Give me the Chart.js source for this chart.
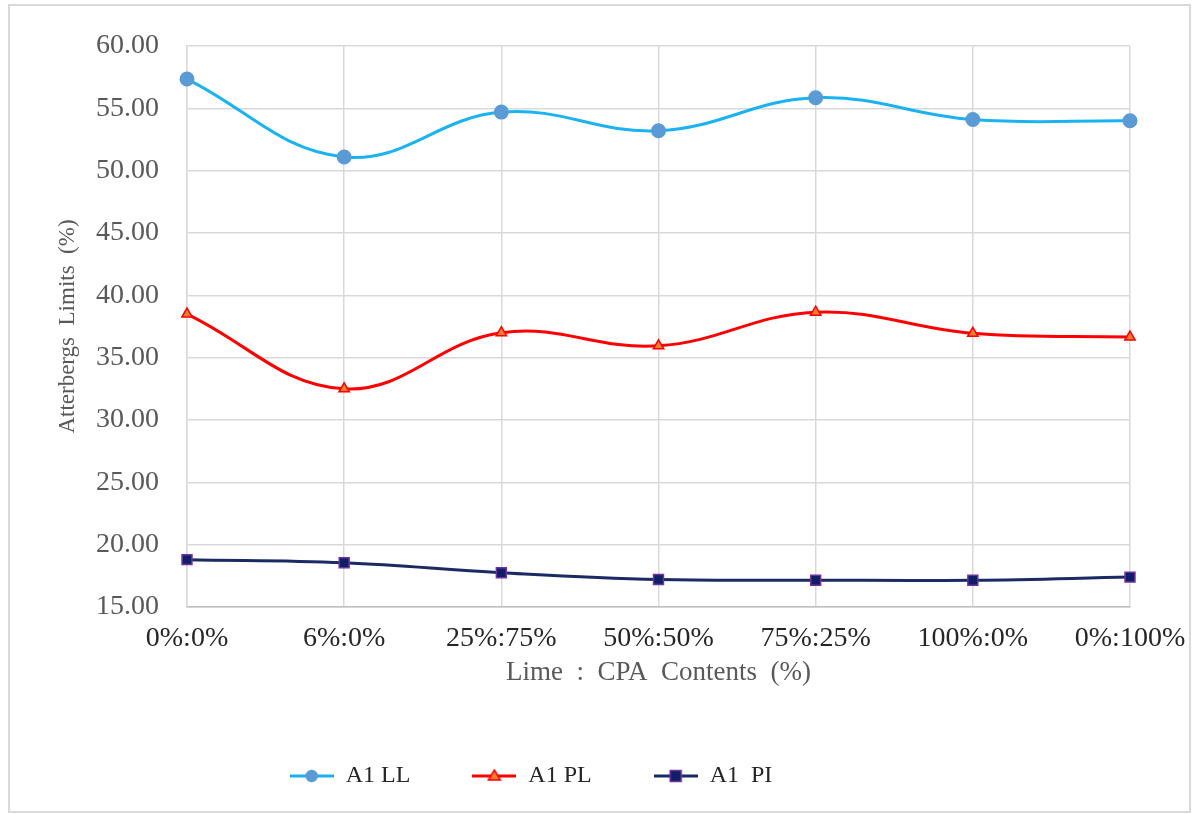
<!DOCTYPE html>
<html>
<head>
<meta charset="utf-8">
<script src="https://cdn.jsdelivr.net/npm/chart.js@4.4.1/dist/chart.umd.min.js"></script>
<style>
  html, body { margin: 0; background: #fff; }
</style>
</head>
<body>
<canvas id="chart" width="1193" height="814"></canvas>
<script>
// values
const categories = ['0%:0%', '6%:0%', '25%:75%', '50%:50%', '75%:25%', '100%:0%', '0%:100%'];
const llValues = [57.35, 51.1, 54.7, 53.2, 55.85, 54.1, 54.0];
const plValues = [38.5, 32.5, 37.0, 35.95, 38.65, 36.95, 36.65];
const piValues = [18.8, 18.55, 17.75, 17.2, 17.15, 17.15, 17.4];
const seriesNames = ['A1 LL', 'A1 PL', 'A1  PI'];
const yMin = 15, yMax = 60, yStep = 5;

const SERIF = '"Liberation Serif", "Times New Roman", serif';

// little line+marker icon for the legend
function legendIcon(line, style, fill, stroke) {
  const c = document.createElement('canvas');
  c.width = 44; c.height = 16;
  const g = c.getContext('2d');
  g.strokeStyle = line; g.lineWidth = 3;
  g.beginPath(); g.moveTo(0, 8); g.lineTo(44, 8); g.stroke();
  g.fillStyle = fill; g.strokeStyle = stroke; g.lineWidth = 1.5;
  g.beginPath();
  if (style === 'circle') g.arc(22, 8, 5.5, 0, Math.PI * 2);
  else if (style === 'triangle') { g.moveTo(22, 2); g.lineTo(28, 12); g.lineTo(16, 12); g.closePath(); }
  else g.rect(16.5, 2.5, 11, 11);
  g.fill(); g.stroke();
  return c;
}

const frame = {
  id: 'frame',
  beforeDraw(chart) {
    const ctx = chart.ctx;
    ctx.save();
    ctx.fillStyle = '#fff';
    ctx.fillRect(0, 0, chart.width, chart.height);
    ctx.strokeStyle = '#d9d9d9';
    ctx.lineWidth = 2;
    ctx.strokeRect(9, 5, 1181, 807);
    ctx.restore();
  }
};

const datasets = [
  { label: seriesNames[0], data: llValues, borderColor: '#1ab2f0', borderWidth: 3,
    pointStyle: 'circle', pointRadius: 6, pointBackgroundColor: '#5b9bd5', pointBorderColor: '#5b9bd5',
    icon: legendIcon('#1ab2f0', 'circle', '#5b9bd5', '#5b9bd5') },
  { label: seriesNames[1], data: plValues, borderColor: '#ff0000', borderWidth: 3,
    pointStyle: 'triangle', pointRadius: 6, pointBackgroundColor: '#ed7d31', pointBorderColor: '#ff0000', pointBorderWidth: 1.5,
    icon: legendIcon('#ff0000', 'triangle', '#ed7d31', '#ff0000') },
  { label: seriesNames[2], data: piValues, borderColor: '#1b2a63', borderWidth: 3,
    pointStyle: 'rect', pointRadius: 7, pointBackgroundColor: '#0f1f66', pointBorderColor: '#7030a0', pointBorderWidth: 1.5,
    icon: legendIcon('#1b2a63', 'rect', '#0f1f66', '#7030a0') }
];
datasets.forEach(d => { d.tension = 0.4; d.fill = false; });

new Chart(document.getElementById('chart'), {
  type: 'line',
  data: { labels: categories, datasets },
  plugins: [frame],
  options: {
    responsive: false,
    devicePixelRatio: 1,
    animation: false,
    layout: { padding: { left: 50, right: 63, top: 46, bottom: 16 } },
    plugins: {
      tooltip: { enabled: false },
      legend: {
        position: 'bottom',
        labels: {
          usePointStyle: true,
          pointStyleWidth: 44,
          padding: 62,
          color: '#262626',
          font: { family: SERIF, size: 24 },
          generateLabels(chart) {
            const items = chart.data.datasets.map((d, i) => ({
              text: d.label, pointStyle: d.icon, fillStyle: d.borderColor,
              strokeStyle: d.borderColor, lineWidth: 0, hidden: false, datasetIndex: i,
              fontColor: '#262626'
            }));
            // blank spacer so the row sits left of centre like the original
            const blank = document.createElement('canvas'); blank.width = 44; blank.height = 16;
            items.push({ text: '', pointStyle: blank, fillStyle: 'transparent', strokeStyle: 'transparent', lineWidth: 0, hidden: false });
            return items;
          }
        }
      }
    },
    scales: {
      x: {
        offset: false,
        afterFit(scale) { scale.height -= 20; scale.paddingRight = 0; },
        grid: { color: '#d9d9d9', lineWidth: 1.5, drawTicks: false },
        border: { color: '#bfbfbf', width: 1.5 },
        ticks: { padding: 15, color: '#262626', font: { family: SERIF, size: 28 }, maxRotation: 0, autoSkip: false },
        title: { display: true, text: 'Lime  :  CPA  Contents  (%)', color: '#595959',
                 font: { family: SERIF, size: 27 }, padding: { top: 6, bottom: 13 } }
      },
      y: {
        min: yMin, max: yMax,
        afterFit(scale) { scale.width = 137; },
        grid: { color: '#d9d9d9', lineWidth: 1.5, drawTicks: false },
        border: { color: '#d9d9d9', width: 1.5 },
        ticks: { stepSize: yStep, padding: 28, color: '#595959', font: { family: SERIF, size: 28 },
                 callback: v => v.toFixed(2) },
        title: { display: true, text: 'Atterbergs  Limits  (%)', color: '#595959',
                 font: { family: SERIF, size: 23 }, padding: { top: 4, bottom: 0 } }
      }
    }
  }
});
</script>
</body>
</html>
